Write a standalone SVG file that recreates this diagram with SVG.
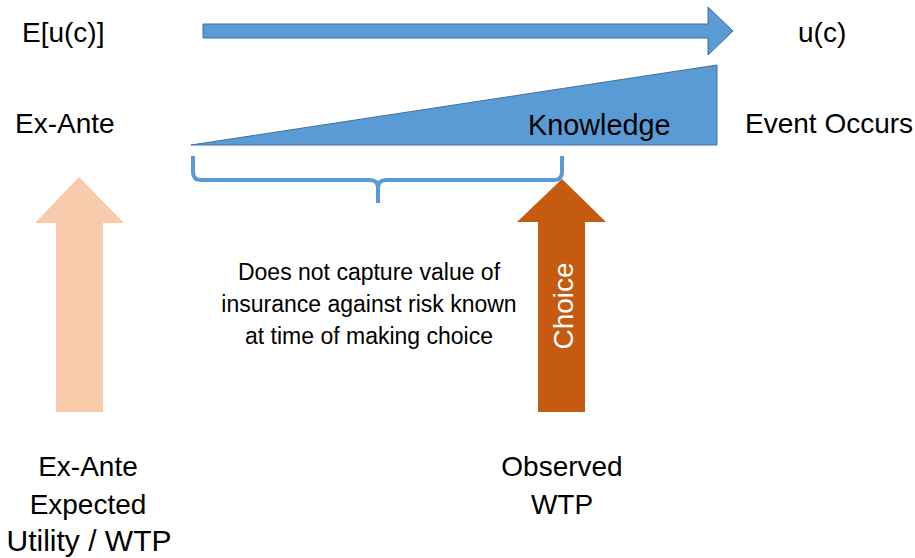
<svg xmlns="http://www.w3.org/2000/svg" width="915" height="558" viewBox="0 0 915 558">
<style>
text{font-family:"Liberation Sans",Arial,sans-serif;fill:#000;}
.lbl{font-size:28px;}
.mid{font-size:23px;text-anchor:middle;}
.ctr{font-size:28px;text-anchor:middle;}
.blue{fill:#5B9BD5;stroke:#41719C;stroke-width:1;}
</style>
<rect width="915" height="558" fill="#fff"/>
<g id="time-arrow">
<polygon class="blue" points="203,24 708,24 708,7 733,31 708,55 708,38 203,38"/>
</g>
<g id="knowledge">
<polygon class="blue" points="191,145 717,65 717,145"/>
<text class="lbl" x="528" y="135" style="font-size:28.8px">Knowledge</text>
</g>
<g id="labels-top">
<text class="lbl" x="22" y="42">E[u(c)]</text>
<text class="lbl" x="798" y="42">u(c)</text>
<text class="lbl" x="15" y="133">Ex-Ante</text>
<text class="lbl" x="745" y="133">Event Occurs</text>
</g>
<g id="connectors">
<path d="M193,156 V172 Q193,180 201,180 H370 Q378,180 378,188 V203 M378,188 Q378,180 386,180 H554 Q562,180 562,172 V156" fill="none" stroke="#5B9BD5" stroke-width="4"/>
</g>
<g id="ex-ante-arrow">
<polygon points="56,412 56,223 35,223 79,177 124,223 103,223 103,412" fill="#F8CBAD"/>
</g>
<g id="choice-arrow">
<polygon points="538,412 538,222 517,222 562,179 606,222 585,222 585,412" fill="#C55A11"/>
<text transform="translate(573,306) rotate(-90)" style="font-size:28px;fill:#fff" text-anchor="middle">Choice</text>
</g>
<g id="note">
<text class="mid" x="369" y="280">Does not capture value of</text>
<text class="mid" x="369" y="312">insurance against risk known</text>
<text class="mid" x="369" y="344">at time of making choice</text>
</g>
<g id="ex-ante-label">
<text class="ctr" x="88" y="476">Ex-Ante</text>
<text class="ctr" x="88" y="514">Expected</text>
<text class="ctr" x="89" y="551" style="font-size:30px">Utility / WTP</text>
</g>
<g id="observed-label">
<text class="ctr" x="562" y="476">Observed</text>
<text class="ctr" x="562" y="514">WTP</text>
</g>
</svg>
